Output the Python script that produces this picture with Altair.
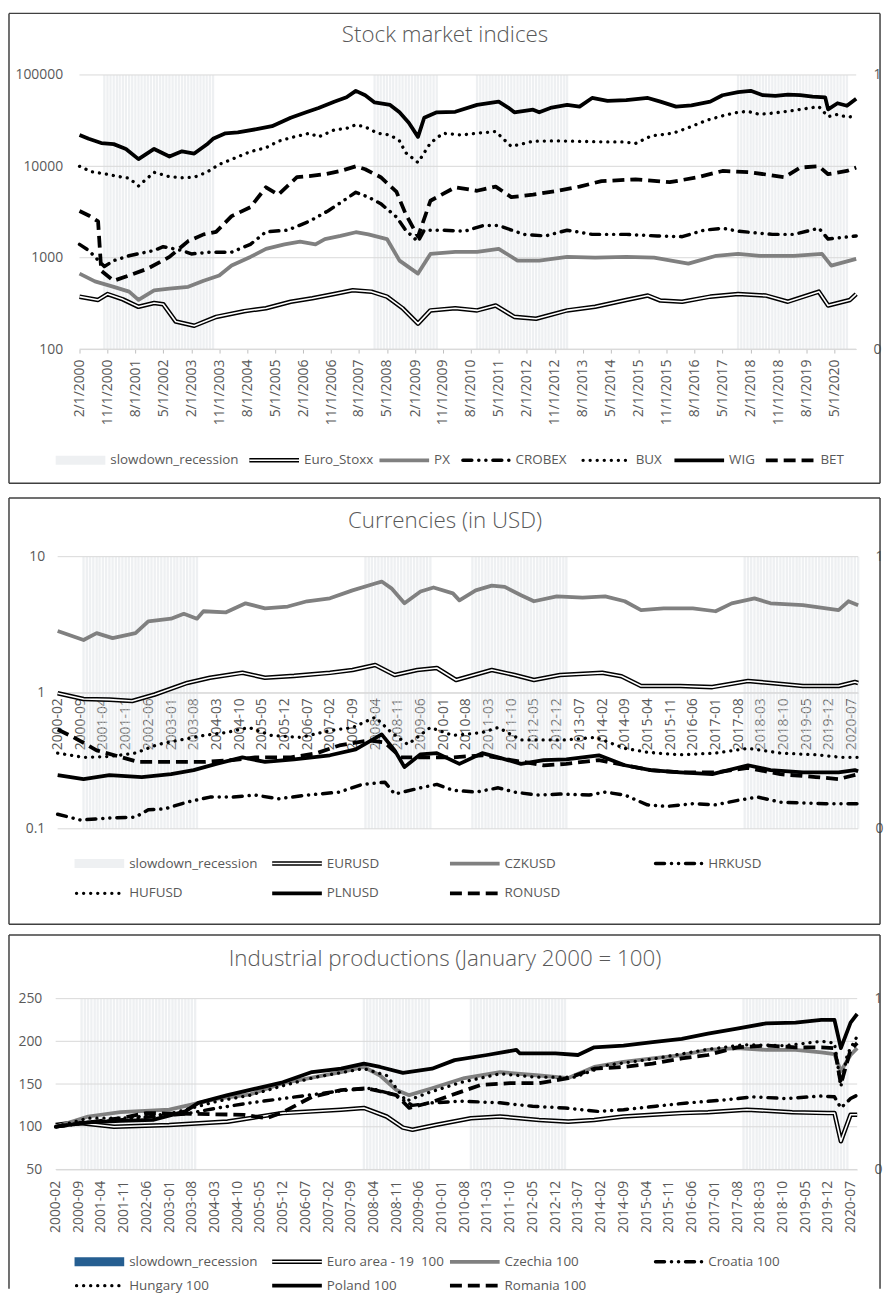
import altair as alt
import pandas as pd

FONT = "Open Sans"
TXT = "#595959"
GRID = "#d9d9d9"
SHADE = "#eef0f2"
SHADE_BAR = "#d9dde2"
SHADE_OPACITY = 0.45
BOX = "#404040"

# ---------------- data ----------------
RECESSIONS = [("2000-10", "2003-09"), ("2008-01", "2009-09"), ("2010-10", "2013-03"), ("2017-10", "2020-09")]
RECESSIONS_IP = [("2000-10", "2003-09"), ("2008-01", "2009-09"), ("2010-10", "2013-03"), ("2017-10", "2020-06")]

# Stock market indices
EURO_STOXX = [("2000-02",375),("2000-08",345),("2000-11",400),("2001-04",350),("2001-09",290),("2002-02",320),("2002-05",310),("2002-09",200),("2003-03",180),("2003-10",225),("2004-07",260),("2005-02",280),("2005-10",330),("2006-05",360),("2006-12",400),("2007-06",440),("2007-12",425),("2008-05",375),("2008-10",280),("2009-03",190),("2009-07",265),("2010-03",280),("2010-10",265),("2011-04",300),("2011-10",225),("2012-05",215),("2013-03",265),("2013-12",290),("2014-10",345),("2015-05",385),("2015-09",340),("2016-04",330),("2017-01",375),("2017-10",400),("2018-07",385),("2019-02",330),("2019-12",425),("2020-03",300),("2020-10",345),("2020-12",400)]
PX = [("2000-02",670),("2000-07",550),("2001-01",480),("2001-06",425),("2001-09",345),("2002-02",440),("2002-07",460),("2003-01",480),("2003-06",560),("2003-11",640),("2004-03",820),("2004-09",1020),("2005-02",1250),("2005-08",1400),("2006-01",1500),("2006-06",1400),("2006-09",1600),("2007-02",1730),("2007-07",1900),("2007-11",1800),("2008-05",1600),("2008-09",930),("2009-03",670),("2009-07",1100),("2010-03",1160),("2010-10",1160),("2011-05",1250),("2011-11",930),("2012-06",930),("2013-03",1020),("2013-12",1000),("2014-10",1020),("2015-07",1000),("2016-06",860),("2017-03",1050),("2017-10",1100),("2018-05",1050),("2019-04",1050),("2020-01",1100),("2020-04",820),("2020-12",970)]
CROBEX = [("2000-02",1400),("2000-05",1200),("2000-10",800),("2001-01",930),("2001-06",1050),("2002-02",1200),("2002-05",1320),("2002-11",1200),("2003-02",1100),("2003-08",1150),("2004-03",1150),("2004-09",1400),("2005-02",1920),("2005-09",2000),("2006-04",2500),("2006-10",3250),("2007-02",4000),("2007-07",5200),("2007-11",4600),("2008-03",3900),("2008-08",2800),("2008-11",2000),("2009-03",1500),("2009-05",2000),("2009-11",2000),("2010-06",1950),("2010-12",2250),("2011-05",2250),("2012-01",1800),("2012-08",1730),("2013-03",2000),("2013-11",1800),("2014-10",1800),("2015-08",1730),("2016-04",1700),("2016-11",2000),("2017-05",2100),("2017-10",1950),("2018-09",1800),("2019-04",1800),("2019-12",2100),("2020-03",1600),("2020-12",1730)]
BUX = [("2000-02",10000),("2000-06",8700),("2000-10",8300),("2001-02",7800),("2001-06",7400),("2001-09",6100),("2002-02",8600),("2002-07",7700),("2002-11",7500),("2003-03",7600),("2003-07",8600),("2003-11",10500),("2004-03",11900),("2004-09",14500),("2005-02",16000),("2005-06",18800),("2005-11",21000),("2006-04",23000),("2006-07",21000),("2006-12",25000),("2007-04",26000),("2007-07",28500),("2007-10",27000),("2008-02",23000),("2008-06",22000),("2008-09",19000),("2008-11",14100),("2009-03",11000),("2009-07",18000),("2009-11",23000),("2010-05",22000),("2010-10",23000),("2011-04",24000),("2011-09",16500),("2012-04",18800),("2012-12",19000),("2013-06",18800),("2014-03",18500),("2014-09",18500),("2015-01",17800),("2015-06",21500),("2016-01",23000),("2016-06",26500),("2016-12",32000),("2017-06",36500),("2017-10",39000),("2018-01",40000),("2018-05",37000),("2018-10",38500),("2019-02",40000),("2019-06",42000),("2019-12",45000),("2020-03",35000),("2020-06",37000),("2020-09",34500),("2020-12",35500)]
WIG = [("2000-02",22000),("2000-05",20000),("2000-09",18000),("2001-01",17500),("2001-05",15500),("2001-09",12000),("2002-02",15500),("2002-07",12800),("2002-11",14600),("2003-03",13800),("2003-07",17300),("2003-09",20000),("2004-01",23000),("2004-05",23500),("2004-11",25500),("2005-04",27500),("2005-10",34000),("2006-03",39000),("2006-07",43500),("2006-12",51000),("2007-04",57000),("2007-07",67000),("2007-10",60000),("2008-01",50000),("2008-06",47000),("2008-09",39000),("2008-12",30000),("2009-03",21000),("2009-05",34000),("2009-09",39000),("2010-03",39500),("2010-10",47000),("2011-05",51000),("2011-08",44000),("2011-10",39000),("2012-04",41700),("2012-06",39000),("2012-10",44000),("2013-03",47000),("2013-07",45000),("2013-11",56000),("2014-04",52000),("2014-10",53000),("2015-05",56000),("2015-09",51000),("2016-02",45000),("2016-07",46500),("2017-01",51000),("2017-05",60000),("2017-10",65000),("2018-02",67000),("2018-06",60000),("2018-10",59000),("2019-02",61000),("2019-06",60000),("2019-10",58000),("2020-02",57000),("2020-03",42000),("2020-06",49000),("2020-09",46000),("2020-12",55000)]
BET = [("2000-02",3240),("2000-05",2900),("2000-08",2500),("2000-09",720),("2001-01",560),("2001-06",640),("2001-12",760),("2002-07",1020),("2003-01",1520),("2003-06",1800),("2003-10",1920),("2004-03",2850),("2004-09",3570),("2005-02",5900),("2005-06",4900),("2005-12",7600),("2006-04",7800),("2006-09",8200),("2007-02",8900),("2007-07",10000),("2007-10",9300),("2008-03",7600),("2008-08",5300),("2008-11",3000),("2009-03",1700),("2009-07",4200),("2010-03",5900),("2010-10",5400),("2011-04",6000),("2011-09",4600),("2012-04",4900),("2012-12",5400),("2013-07",6000),("2014-02",6900),("2015-01",7200),("2015-12",6700),("2016-09",7600),("2017-05",8900),("2018-02",8600),("2019-01",7600),("2019-06",9700),("2019-12",10000),("2020-03",8200),("2020-09",8900),("2020-12",9700)]

# Currencies (in USD)
EURUSD = [("2000-02",0.99),("2000-10",0.90),("2001-06",0.89),("2002-01",0.87),("2002-08",0.97),("2003-06",1.18),("2004-01",1.29),("2004-11",1.40),("2005-06",1.29),("2006-03",1.33),("2007-02",1.40),("2007-09",1.47),("2008-04",1.60),("2008-10",1.35),("2009-05",1.47),("2009-11",1.52),("2010-05",1.24),("2011-04",1.47),("2011-11",1.35),("2012-05",1.24),("2013-01",1.35),("2014-02",1.40),("2014-08",1.32),("2015-02",1.12),("2016-02",1.12),("2016-12",1.10),("2017-11",1.22),("2018-06",1.18),("2019-04",1.12),("2020-03",1.12),("2020-08",1.20),("2020-09",1.18)]
CZKUSD = [("2000-02",2.84),("2000-10",2.44),("2001-02",2.74),("2001-07",2.52),("2002-02",2.74),("2002-06",3.35),("2003-01",3.5),("2003-05",3.8),("2003-09",3.5),("2003-11",3.97),("2004-06",3.9),("2004-12",4.54),("2005-06",4.17),("2006-01",4.3),("2006-07",4.7),("2007-02",4.94),("2007-09",5.65),("2008-04",6.35),("2008-06",6.56),("2008-09",5.85),("2009-01",4.54),("2009-06",5.55),("2009-10",5.94),("2010-04",5.37),("2010-06",4.77),("2010-11",5.65),("2011-04",6.13),("2011-08",6.0),("2012-01",5.2),("2012-05",4.7),("2012-12",5.1),("2013-08",5.0),("2014-03",5.1),("2014-09",4.7),("2015-02",4.04),("2015-09",4.17),("2016-06",4.17),("2017-01",3.97),("2017-06",4.54),("2018-01",4.94),("2018-06",4.54),("2019-04",4.4),("2020-03",4.04),("2020-06",4.7),("2020-09",4.4)]
HRKUSD = [("2000-02",0.128),("2000-09",0.116),("2001-06",0.120),("2002-02",0.122),("2002-06",0.138),("2002-11",0.140),("2003-06",0.157),("2004-01",0.171),("2004-08",0.171),("2005-03",0.177),("2005-10",0.166),("2006-07",0.177),("2007-05",0.186),("2007-12",0.212),("2008-07",0.220),("2008-10",0.180),("2009-06",0.200),("2009-11",0.212),("2010-04",0.192),("2010-11",0.186),("2011-06",0.200),("2011-11",0.186),("2012-06",0.177),("2013-01",0.180),("2013-10",0.177),("2014-03",0.186),("2014-09",0.177),("2015-04",0.150),("2015-10",0.146),("2016-06",0.153),("2017-01",0.150),("2017-08",0.162),("2018-02",0.171),("2018-09",0.157),("2019-04",0.155),("2019-11",0.153),("2020-09",0.153)]
HUFUSD = [("2000-02",0.36),("2000-10",0.335),("2001-06",0.34),("2002-02",0.36),("2002-09",0.417),("2003-04",0.45),("2003-11",0.485),("2004-06",0.51),("2005-01",0.555),("2005-08",0.485),("2006-05",0.47),("2007-02",0.527),("2007-09",0.555),("2008-04",0.66),("2008-09",0.51),("2009-02",0.417),("2009-09",0.555),("2010-04",0.485),("2011-01",0.51),("2011-06",0.555),("2012-01",0.45),("2012-08",0.45),("2013-03",0.45),("2013-12",0.47),("2014-09",0.39),("2015-04",0.365),("2016-02",0.35),("2017-01",0.36),("2017-11",0.39),("2018-09",0.36),("2019-08",0.35),("2020-04",0.335),("2020-09",0.335)]
PLNUSD = [("2000-02",0.248),("2000-10",0.232),("2001-06",0.248),("2002-04",0.240),("2003-01",0.252),("2003-08",0.270),("2004-03",0.300),("2004-11",0.335),("2005-06",0.310),("2006-03",0.324),("2007-02",0.347),("2007-10",0.383),("2008-06",0.494),("2008-10",0.377),("2009-01",0.284),("2009-06",0.353),("2009-11",0.360),("2010-06",0.300),("2011-01",0.360),("2011-06",0.335),("2012-01",0.300),("2012-08",0.320),("2013-03",0.324),("2014-01",0.347),("2014-09",0.293),("2015-05",0.270),("2016-02",0.260),("2016-12",0.252),("2017-11",0.293),("2018-06",0.270),("2019-04",0.260),("2020-03",0.260),("2020-08",0.270),("2020-09",0.265)]
RONUSD = [("2000-02",0.537),("2000-07",0.47),("2001-02",0.377),("2002-03",0.31),("2003-01",0.31),("2003-11",0.31),("2004-08",0.32),("2005-03",0.335),("2006-02",0.335),("2006-10",0.36),("2007-05",0.41),("2008-02",0.446),("2008-07",0.43),("2008-12",0.335),("2009-06",0.335),("2010-04",0.335),("2011-01",0.347),("2011-10",0.32),("2012-08",0.293),("2013-03",0.30),("2014-01",0.32),("2014-09",0.293),("2015-05",0.27),("2016-02",0.26),("2017-01",0.26),("2017-11",0.28),("2018-09",0.252),("2019-08",0.24),("2020-03",0.232),("2020-09",0.252)]

# Industrial productions (January 2000 = 100)
EURO_AREA = [("2000-02",102),("2000-08",105),("2001-08",100),("2003-01",102),("2004-07",106),("2005-12",116),("2007-06",120),("2008-01",122),("2008-08",112),("2009-01",99),("2009-04",96.5),("2009-11",102),("2010-10",110),("2011-07",112),("2012-07",108),("2013-04",106),("2013-12",108),("2014-09",112),("2015-06",114),("2016-03",116),("2016-11",117),("2017-11",120),("2019-01",117),("2019-12",116),("2020-02",116),("2020-04",83),("2020-07",114),("2020-09",114)]
CZECHIA = [("2000-02",100),("2000-12",112),("2001-10",117),("2003-01",120),("2004-04",133),("2005-02",138),("2005-12",151),("2007-06",164),("2008-01",170),("2008-06",160),("2008-11",143),("2009-03",137),("2009-10",145),("2010-08",157),("2011-07",164),("2012-07",160),("2013-04",157),("2013-12",170),("2014-09",176),("2015-06",180),("2016-03",184),("2016-11",190),("2017-08",192),("2018-05",190),("2019-02",190),("2019-10",187),("2020-02",185),("2020-04",165),("2020-07",184),("2020-09",192)]
CROATIA = [("2000-02",100),("2000-12",105),("2001-10",108),("2002-08",112),("2003-06",115),("2004-04",122),("2005-02",128),("2005-12",133),("2006-10",138),("2007-08",143),("2008-03",145),("2008-10",138),("2009-04",125),("2009-10",128),("2010-07",130),("2011-07",128),("2012-05",124),("2013-03",122),("2014-01",118),("2014-09",120),("2015-07",124),("2016-05",128),("2017-03",131),("2018-01",135),("2018-11",133),("2019-10",136),("2020-02",135),("2020-04",122),("2020-07",133),("2020-09",137)]
HUNGARY = [("2000-02",100),("2000-12",110),("2001-10",110),("2003-01",115),("2004-04",130),("2005-02",137),("2005-12",148),("2006-10",158),("2008-01",168),("2008-08",160),("2009-02",130),("2009-09",140),("2010-07",152),("2011-07",162),("2012-06",158),("2013-06",158),("2014-04",172),("2015-07",180),("2016-10",190),("2017-10",196),("2018-11",195),("2019-10",200),("2020-02",198),("2020-04",147),("2020-06",185),("2020-09",206)]
POLAND = [("2000-02",100),("2000-12",105),("2001-10",107),("2002-08",108),("2003-06",118),("2003-10",128),("2004-07",137),("2005-04",145),("2005-12",152),("2006-09",164),("2007-06",168),("2008-01",174),("2008-06",170),("2009-01",163),("2009-10",168),("2010-05",178),("2011-03",184),("2011-12",190),("2012-01",186),("2012-12",186),("2013-07",184),("2013-12",193),("2014-09",195),("2015-06",199),("2016-03",203),("2016-11",209),("2017-08",215),("2018-05",221),("2019-02",222),("2019-10",225),("2020-02",225),("2020-04",192),("2020-07",222),("2020-09",232)]
ROMANIA = [("2000-02",100),("2001-10",110),("2002-06",116),("2004-12",114),("2005-07",110),("2005-12",117),("2006-09",135),("2007-06",143),("2008-02",145),("2008-11",137),("2009-03",122),("2009-10",129),("2011-01",149),("2011-10",151),("2012-07",151),("2013-04",157),("2013-12",168),("2014-09",170),("2015-06",174),("2016-03",180),("2016-11",184),("2017-08",193),("2018-05",195),("2019-02",193),("2019-10",193),("2020-02",192),("2020-04",150),("2020-07",190),("2020-09",198)]

TICKS_P1 = [d.strftime("%Y-%m") for d in pd.date_range("2000-02-01", "2020-05-01", freq="9MS")]
TICKS_P23 = [d.strftime("%Y-%m") for d in pd.date_range("2000-02-01", "2020-07-01", freq="7MS")]

# ---------------- styles ----------------
STYLES = {
    "double": [("#000000", 4.6, None, "butt"), ("#ffffff", 1.6, None, "butt")],
    "gray": [("#808080", 3.8, None, "butt")],
    "dashdot": [("#000000", 3.5, [9, 7, 0.1, 7, 0.1, 7], "round")],
    "dots": [("#000000", 3.3, [0.1, 7], "round")],
    "solid": [("#000000", 3.8, None, "butt")],
    "dash": [("#000000", 3.8, [12, 6], "butt")],
}

BASE = pd.DataFrame({"k": [0]})
VIEW_LEFT = 79  # common page x of every panel's view origin


def dt(s):
    d = pd.Timestamp(s + "-01")
    return alt.DateTime(year=d.year, month=d.month, date=1)


def to_df(pairs):
    return pd.DataFrame({"date": pd.to_datetime([d + "-01" for d, _ in pairs]),
                         "value": [v for _, v in pairs]})


def rec_df(periods):
    rows = []
    for a, b in periods:
        for d in pd.date_range(a + "-01", b + "-01", freq="MS"):
            rows.append({"start": d - pd.Timedelta(days=11), "end": d + pd.Timedelta(days=11),
                         "one": 1, "zero": 0})
    return pd.DataFrame(rows)


def vrect(x0, x1, y0, y1, **mk):
    return alt.Chart(BASE).mark_rect(**mk).encode(
        x=alt.value(x0), x2=alt.value(x1), y=alt.value(y0), y2=alt.value(y1))


def vrule(x0, x1, y, **mk):
    return alt.Chart(BASE).mark_rule(**mk).encode(x=alt.value(x0), x2=alt.value(x1), y=alt.value(y))


def vvrule(x, y0, y1, **mk):
    return alt.Chart(BASE).mark_rule(**mk).encode(x=alt.value(x), y=alt.value(y0), y2=alt.value(y1))


def vtext(x, y, s, **mk):
    return alt.Chart(BASE).mark_text(text=s, font=FONT, color=TXT, baseline="middle", **mk).encode(
        x=alt.value(x), y=alt.value(y))


def legend_item(x, y, style, label, L, T, rect_color=SHADE):
    xr, yr = x - L, y - T
    out = []
    if style == "rect":
        out.append(vrect(xr, xr + 50, yr - 4.5, yr + 4.5, color=rect_color))
    else:
        for color, width, dash, cap in STYLES[style]:
            kw = dict(color=color, strokeWidth=width, strokeCap=cap)
            if dash:
                kw["strokeDash"] = dash
            out.append(vrule(xr + (2 if cap == "round" else 0), xr + 50, yr, **kw))
    out.append(vtext(xr + 55, yr, label, fontSize=13.5, align="left"))
    return out


def build_panel(cfg):
    L = VIEW_LEFT
    T = cfg["top"]
    px0, px1 = cfg["plot_x"]           # page x of plot's left / right edge
    r0, r1 = px0 - L, px1 - L
    W, H = r1, cfg["height"]
    xs = alt.Scale(domain=[dt(cfg["xstart"]), dt(cfg["xend"])], range=[r0, r1])
    xaxis = alt.Axis(values=[dt(t) for t in cfg["ticks"]], labelAngle=-90, labelOverlap=False,
                     labelFlush=False, grid=False, domain=True, domainColor=GRID, domainWidth=1,
                     ticks=cfg["xticks"], tickSize=4, tickColor="#bfbfbf",
                     labelPadding=cfg["xlabelpad"], offset=cfg["xoffset"], labelFontSize=14,
                     labelColor=TXT, labelFont=FONT, title=None, **cfg["xfmt"])
    ys = alt.Scale(**cfg["yscale"])
    yaxis = alt.Axis(values=cfg["yvalues"], grid=False, domain=False, ticks=False,
                     labelPadding=cfg["ylabelpad"] - r0, labelFontSize=14, labelColor=TXT,
                     labelFont=FONT, title=None, **cfg["yfmt"])
    raxis = alt.Axis(orient="right", values=[0, 1], format="d", grid=False, domain=False, ticks=False,
                     labelPadding=17, labelFontSize=14, labelColor=TXT, labelFont=FONT, title=None)

    grid = alt.Chart(pd.DataFrame({"g": cfg["yvalues"]})).mark_rule(color=GRID, strokeWidth=1).encode(
        x=alt.value(r0), x2=alt.value(r1), y=alt.Y("g:Q", scale=ys, axis=yaxis, title=None))
    lines = [grid]
    for pairs, style in cfg["series"]:
        df = to_df(pairs)
        for color, width, dash, cap in STYLES[style]:
            kw = dict(color=color, strokeWidth=width, strokeCap=cap, strokeJoin="round")
            if dash:
                kw["strokeDash"] = dash
            lines.append(alt.Chart(df).mark_line(**kw).encode(
                x=alt.X("date:T", scale=xs, axis=xaxis, title=None),
                y=alt.Y("value:Q", scale=ys, axis=yaxis, title=None)))
    inner = alt.layer(*lines)

    bars = alt.Chart(rec_df(cfg["rec"])).mark_rect(color=SHADE_BAR, opacity=SHADE_OPACITY).encode(
        x=alt.X("start:T", scale=xs, axis=xaxis, title=None), x2="end:T",
        y=alt.Y("one:Q", scale=alt.Scale(domain=[0, 1]), axis=raxis, title=None), y2="zero:Q")

    bx0, by0, bx1, by1 = [c - o for c, o in zip(cfg["box"], (L, T, L, T))]
    bstyle = dict(color=BOX, strokeWidth=1.5)
    deco_back = [vrule(bx0, bx1, by0, **bstyle), vvrule(bx0, by0, by1, **bstyle),
                 vvrule(bx1, by0, by1, **bstyle)]
    if cfg.get("closed", True):
        deco_back.append(vrule(bx0, bx1, by1, **bstyle))
    if cfg.get("spacer"):
        deco_back.append(vrect(bx0, bx0 + 10, by1, by1 + cfg["spacer"], opacity=0))
    deco = [vtext(447 - L, cfg["title_y"] - T, cfg["title"], fontSize=22.5, fontWeight=300,
                  align="center")]
    for (x, y, style, label) in cfg["legend"]:
        deco += legend_item(x, y, style, label, L, T, cfg.get("rect_color", SHADE))

    return alt.layer(*deco_back, bars, inner, *deco).resolve_scale(y="independent").properties(
        width=W, height=H)


p1 = build_panel(dict(
    top=70, plot_x=(79, 861), height=276, xstart="2000-02", xend="2020-12",
    ticks=TICKS_P1, xticks=True, xlabelpad=6, xoffset=0,
    xfmt=dict(labelExpr="(month(datum.value)+1) + '/1/' + year(datum.value)"),
    yscale=dict(type="log", domain=[100, 100000], nice=False), yvalues=[100, 1000, 10000, 100000],
    ylabelpad=17, yfmt=dict(format="d"),
    series=[(EURO_STOXX, "double"), (PX, "gray"), (CROBEX, "dashdot"), (BUX, "dots"),
            (WIG, "solid"), (BET, "dash")],
    rec=RECESSIONS, box=(8, 8, 885, 481), spacer=5, title="Stock market indices", title_y=30,
    legend=[(55, 458, "rect", "slowdown_recession"), (250, 458, "double", "Euro_Stoxx"),
            (381, 458, "gray", "PX"), (463, 458, "dashdot", "CROBEX"), (584, 458, "dots", "BUX"),
            (678, 458, "solid", "WIG"), (770, 458, "dash", "BET")],
))

p2 = build_panel(dict(
    top=556, plot_x=(57, 863), height=274, xstart="2000-02", xend="2020-09",
    ticks=TICKS_P23, xticks=False, xlabelpad=5, xoffset=-137,
    xfmt=dict(format="%Y-%m"),
    yscale=dict(type="log", domain=[0.1, 10], nice=False), yvalues=[0.1, 1, 10],
    ylabelpad=13, yfmt=dict(format="~g"),
    series=[(EURUSD, "double"), (CZKUSD, "gray"), (HRKUSD, "dashdot"), (HUFUSD, "dots"),
            (PLNUSD, "solid"), (RONUSD, "dash")],
    rec=RECESSIONS, box=(8, 497, 885, 926), title="Currencies (in USD)", title_y=520,
    legend=[(74, 865, "rect", "slowdown_recession"), (273, 865, "double", "EURUSD"),
            (452, 865, "gray", "CZKUSD"), (657, 865, "dashdot", "HRKUSD"),
            (74, 895, "dots", "HUFUSD"), (273, 895, "solid", "PLNUSD"), (452, 895, "dash", "RONUSD")],
))

p3 = build_panel(dict(
    top=1000, plot_x=(55, 862), height=172, xstart="2000-02", xend="2020-09",
    ticks=TICKS_P23, xticks=False, xlabelpad=11, xoffset=0,
    xfmt=dict(format="%Y-%m"),
    yscale=dict(type="linear", domain=[50, 250], nice=False, zero=False),
    yvalues=[50, 100, 150, 200, 250], ylabelpad=14, yfmt=dict(format="d"),
    series=[(EURO_AREA, "double"), (CZECHIA, "gray"), (CROATIA, "dashdot"), (HUNGARY, "dots"),
            (POLAND, "solid"), (ROMANIA, "dash")],
    rec=RECESSIONS_IP, box=(8, 936, 885, 1292), closed=False,
    title="Industrial productions (January 2000 = 100)", title_y=960, rect_color="#255e91",
    legend=[(74, 1265, "rect", "slowdown_recession"), (273, 1265, "double", "Euro area - 19\u00a0 100"),
            (452, 1265, "gray", "Czechia 100"), (657, 1265, "dashdot", "Croatia 100"),
            (74, 1289, "dots", "Hungary 100"), (273, 1289, "solid", "Poland 100"),
            (452, 1289, "dash", "Romania 100")],
))

chart = alt.vconcat(p1, p2, p3, spacing=9).properties(padding=0, background="white").configure_view(
    stroke=None).configure_axis(labelFont=FONT, labelColor=TXT)

chart.save("out.html", embed_options={"renderer": "svg", "actions": False})
